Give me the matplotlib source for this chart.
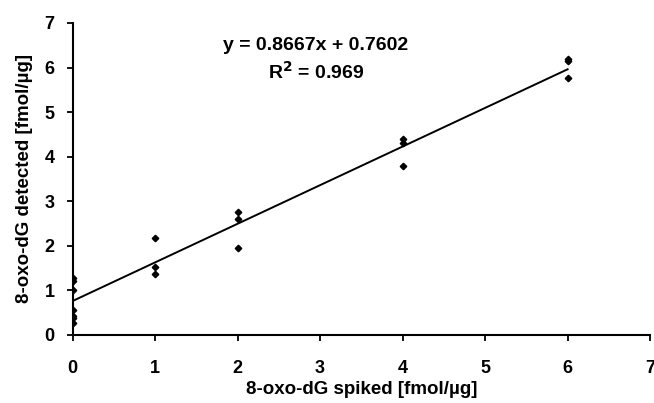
import matplotlib.pyplot as plt
import numpy as np

plt.rcParams['font.family'] = ['Liberation Sans', 'DejaVu Sans']
plt.rcParams['font.weight'] = 'bold'

# spiked amount and detected amount (fmol/ug)
spiked = [0, 0, 0, 0, 0, 0, 0,
          1, 1, 1,
          2, 2, 2,
          4, 4, 4,
          6, 6, 6]
detected = [1.27, 1.20, 1.00, 0.55, 0.42, 0.37, 0.27,
            2.18, 1.52, 1.36,
            2.75, 2.60, 1.96,
            4.40, 4.30, 3.78,
            6.20, 6.15, 5.76]

# trendline from the fit shown on the chart
slope = 0.8667
intercept = 0.7602
r2 = 0.969

fig = plt.figure(figsize=(6.54, 4.03), dpi=100)
ax = fig.add_axes([0.111, 0.169, 0.883, 0.774])

ax.plot(spiked, detected, 'D', color='black', markersize=3.3)
xl = np.array([0, 6])
ax.plot(xl, slope * xl + intercept, color='black', lw=1.4)

ax.set_xlim(0, 7)
ax.set_ylim(0, 7)
ax.set_xticks(range(8))
ax.set_yticks(range(8))
ax.spines['top'].set_visible(False)
ax.spines['right'].set_visible(False)
for s in ['left', 'bottom']:
    ax.spines[s].set_linewidth(1.5)
ax.tick_params(direction='out', length=4, width=1.3, labelsize=13)
ax.tick_params(axis='x', pad=14)
ax.tick_params(axis='y', pad=9)

ax.set_xlabel('8-oxo-dG spiked [fmol/µg]', fontsize=13.5, fontweight='bold', labelpad=3)
ax.set_ylabel('8-oxo-dG detected [fmol/µg]', fontsize=13.5, fontweight='bold', labelpad=8)

ax.text(2.95, 6.5, f'y = {slope}x + {intercept}', ha='center', va='center',
        fontsize=14, fontweight='bold')
ax.text(2.95, 5.9, f'R$^\\mathbf{{2}}$ = {r2}', ha='center', va='center',
        fontsize=14, fontweight='bold')

fig.savefig('out.png', dpi=100)
